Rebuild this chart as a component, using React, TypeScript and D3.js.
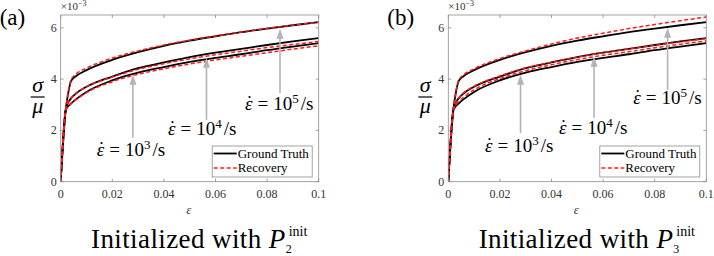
import * as React from 'react';
import { useEffect } from 'react';
import * as d3 from 'd3';

// strain samples (x axis) shared by every curve
const strain = [0, 0.002, 0.003, 0.004, 0.006, 0.01, 0.02, 0.03, 0.04, 0.05, 0.06, 0.07, 0.08, 0.09, 0.1];

// ground truth sigma/mu (x1e-3) for strain rates 1e5, 1e4, 1e3
const truth5 = [0, 2.85, 3.5, 3.92, 4.12, 4.35, 4.75, 5.05, 5.3, 5.5, 5.67, 5.83, 5.97, 6.1, 6.22];
const truth4 = [0, 2.85, 3.1, 3.25, 3.45, 3.7, 4.1, 4.43, 4.65, 4.86, 5.03, 5.18, 5.33, 5.47, 5.6];
const truth3 = [0, 2.8, 2.95, 3.05, 3.22, 3.5, 3.95, 4.25, 4.47, 4.67, 4.83, 4.97, 5.13, 5.27, 5.4];

// recovery, panel (a)
const recA5 = [0, 2.85, 3.55, 3.97, 4.2, 4.43, 4.82, 5.1, 5.33, 5.52, 5.68, 5.84, 5.98, 6.1, 6.22];
const recA4 = [0, 2.85, 3.1, 3.25, 3.45, 3.7, 4.08, 4.38, 4.6, 4.79, 4.95, 5.09, 5.23, 5.35, 5.47];
const recA3 = [0, 2.8, 2.95, 3.05, 3.2, 3.47, 3.9, 4.19, 4.4, 4.59, 4.75, 4.89, 5.03, 5.17, 5.3];

// recovery, panel (b)
const recB5 = [0, 2.85, 3.55, 3.95, 4.17, 4.4, 4.8, 5.1, 5.37, 5.6, 5.79, 5.97, 6.13, 6.28, 6.42];
const recB4 = [0, 2.85, 3.12, 3.27, 3.47, 3.72, 4.12, 4.44, 4.66, 4.86, 5.03, 5.18, 5.32, 5.45, 5.58];
const recB3 = [0, 2.8, 3.0, 3.12, 3.3, 3.58, 4.02, 4.33, 4.56, 4.76, 4.93, 5.07, 5.22, 5.36, 5.49];

const xTicks = [0, 0.02, 0.04, 0.06, 0.08, 0.1];
const yTicks = [0, 2, 4, 6];

// annotations: exponent, arrow x, arrow tail / head (data units), label start / baseline
const rateExp = ['3', '4', '5'];
const arrowEps = [0.028, 0.0565, 0.085];
const arrowTailA = [1.71, 2.41, 3.46];
const arrowHeadA = [4.17, 4.83, 5.96];
const labelEpsA = [0.014, 0.0416, 0.0714];
const labelValA = [1.0, 1.82, 2.8];
const arrowTailB = [1.9, 2.49, 3.58];
const arrowHeadB = [4.17, 4.87, 6.0];
const labelEpsB = [0.0142, 0.0429, 0.0717];
const labelValB = [1.16, 1.86, 3.04];

const FONT = 'Liberation Serif, Times New Roman, DejaVu Serif, serif';

type PanelProps = {
  left: number;
  tag: string;
  sub: string;
  rec: number[][];
  tails: number[];
  heads: number[];
  labEps: number[];
  labVal: number[];
};

const Panel = ({ left, tag, sub, rec, tails, heads, labEps, labVal }: PanelProps) => {
  const top = 15;
  const bottom = 181.7;
  const width = 258;
  const x = d3.scaleLinear().domain([0, 0.1]).range([left, left + width]);
  const y = d3.scaleLinear().domain([0, 6.5]).range([bottom, top]);
  const line = d3.line<number>()
    .x((_, i) => x(strain[i]))
    .y(d => y(d))
    .curve(d3.curveMonotoneX);
  const truth = [truth5, truth4, truth3];
  const axisCol = '#8c8c8c';
  const tickCol = '#333';

  return (
    <g style={{ fontFamily: FONT }}>
      <text x={left - 61} y={25} fontSize={23}>{tag}</text>
      <defs>
        <clipPath id={'clip' + left}>
          <rect x={left} y={top} width={width} height={bottom - top} />
        </clipPath>
      </defs>

      {/* curves */}
      <g clipPath={`url(#clip${left})`}>
        {truth.map((d, i) => (
          <path key={'t' + i} d={line(d) || ''} fill="none" stroke="#000" strokeWidth={1.8} />
        ))}
        {rec.map((d, i) => (
          <path key={'r' + i} d={line(d) || ''} fill="none" stroke="#ff1a1a" strokeWidth={1.5} strokeDasharray="4,2.5" />
        ))}
      </g>

      {/* box and ticks */}
      <rect x={left} y={top} width={width} height={bottom - top} fill="none" stroke={axisCol} strokeWidth={0.8} />
      {xTicks.map(t => (
        <g key={'x' + t}>
          <line x1={x(t)} x2={x(t)} y1={bottom} y2={bottom - 3} stroke={axisCol} strokeWidth={0.8} />
          <line x1={x(t)} x2={x(t)} y1={top} y2={top + 3} stroke={axisCol} strokeWidth={0.8} />
          <text x={x(t)} y={bottom + 16} textAnchor="middle" fontSize={12} fill={tickCol}>{t}</text>
        </g>
      ))}
      {yTicks.map(t => (
        <g key={'y' + t}>
          <line x1={left} x2={left + 3} y1={y(t)} y2={y(t)} stroke={axisCol} strokeWidth={0.8} />
          <line x1={left + width} x2={left + width - 3} y1={y(t)} y2={y(t)} stroke={axisCol} strokeWidth={0.8} />
          <text x={left - 4} y={y(t) + 4} textAnchor="end" fontSize={12} fill={tickCol}>{t}</text>
        </g>
      ))}
      <text x={left} y={10} fontSize={11} fill={tickCol}>
        ×10<tspan dy={-4} fontSize={8}>−3</tspan>
      </text>

      {/* axis labels */}
      <text x={left + 128} y={214} textAnchor="middle" fontStyle="italic" fontSize={13} fill={tickCol}>ε</text>
      <text x={left - 23} y={92} textAnchor="middle" fontStyle="italic" fontSize={22}>σ</text>
      <line x1={left - 30} x2={left - 16} y1={97} y2={97} stroke="#000" strokeWidth={1.2} />
      <text x={left - 23} y={113} textAnchor="middle" fontStyle="italic" fontSize={22}>μ</text>

      {/* rate arrows */}
      {arrowEps.map((e, i) => {
        const ax = x(e);
        const yt = y(tails[i]);
        const yh = y(heads[i]);
        return (
          <g key={'a' + i}>
            <line x1={ax} x2={ax} y1={yt} y2={yh + 8} stroke="#b3b3b3" strokeWidth={1.6} />
            <path d={`M${ax},${yh} L${ax - 3.5},${yh + 10} L${ax + 3.5},${yh + 10} Z`} fill="#b3b3b3" />
          </g>
        );
      })}
      {rateExp.map((p, i) => {
        const lx = x(labEps[i]);
        const ly = y(labVal[i]);
        return (
          <g key={'l' + i} fontSize={19}>
            <text x={lx + 4.5} y={ly - 1} textAnchor="middle">˙</text>
            <text x={lx} y={ly}>
              <tspan fontStyle="italic">ε</tspan>
              <tspan dx={5}>=</tspan>
              <tspan dx={5}>10</tspan>
              <tspan dy={-7} fontSize={13}>{p}</tspan>
              <tspan dy={7} dx={2}>/s</tspan>
            </text>
          </g>
        );
      })}

      {/* legend */}
      <rect x={left + 151.5} y={146} width={100} height={31} fill="#fff" stroke={axisCol} strokeWidth={0.8} />
      <line x1={left + 153} x2={left + 176} y1={153.5} y2={153.5} stroke="#000" strokeWidth={1.8} />
      <text x={left + 177} y={157.5} fontSize={13}>Ground Truth</text>
      <line x1={left + 153} x2={left + 176} y1={168} y2={168} stroke="#ff1a1a" strokeWidth={1.5} strokeDasharray="4,2.5" />
      <text x={left + 177} y={172} fontSize={13}>Recovery</text>

      {/* title */}
      <text x={left + 225} y={248} textAnchor="end" fontSize={27} letterSpacing={0.4}>
        Initialized with <tspan fontStyle="italic">P</tspan>
      </text>
      <text x={left + 225} y={253} fontSize={12}>{sub}</text>
      <text x={left + 228} y={236} fontSize={14}>init</text>
    </g>
  );
};

export default function App() {
  useEffect(() => {
    document.body.style.margin = '0';
  }, []);
  return (
    <svg width={714} height={256} style={{ display: 'block', background: '#fff' }}>
      <Panel left={60.7} tag="(a)" sub="2" rec={[recA5, recA4, recA3]}
        tails={arrowTailA} heads={arrowHeadA} labEps={labelEpsA} labVal={labelValA} />
      <Panel left={448.3} tag="(b)" sub="3" rec={[recB5, recB4, recB3]}
        tails={arrowTailB} heads={arrowHeadB} labEps={labelEpsB} labVal={labelValB} />
    </svg>
  );
}
